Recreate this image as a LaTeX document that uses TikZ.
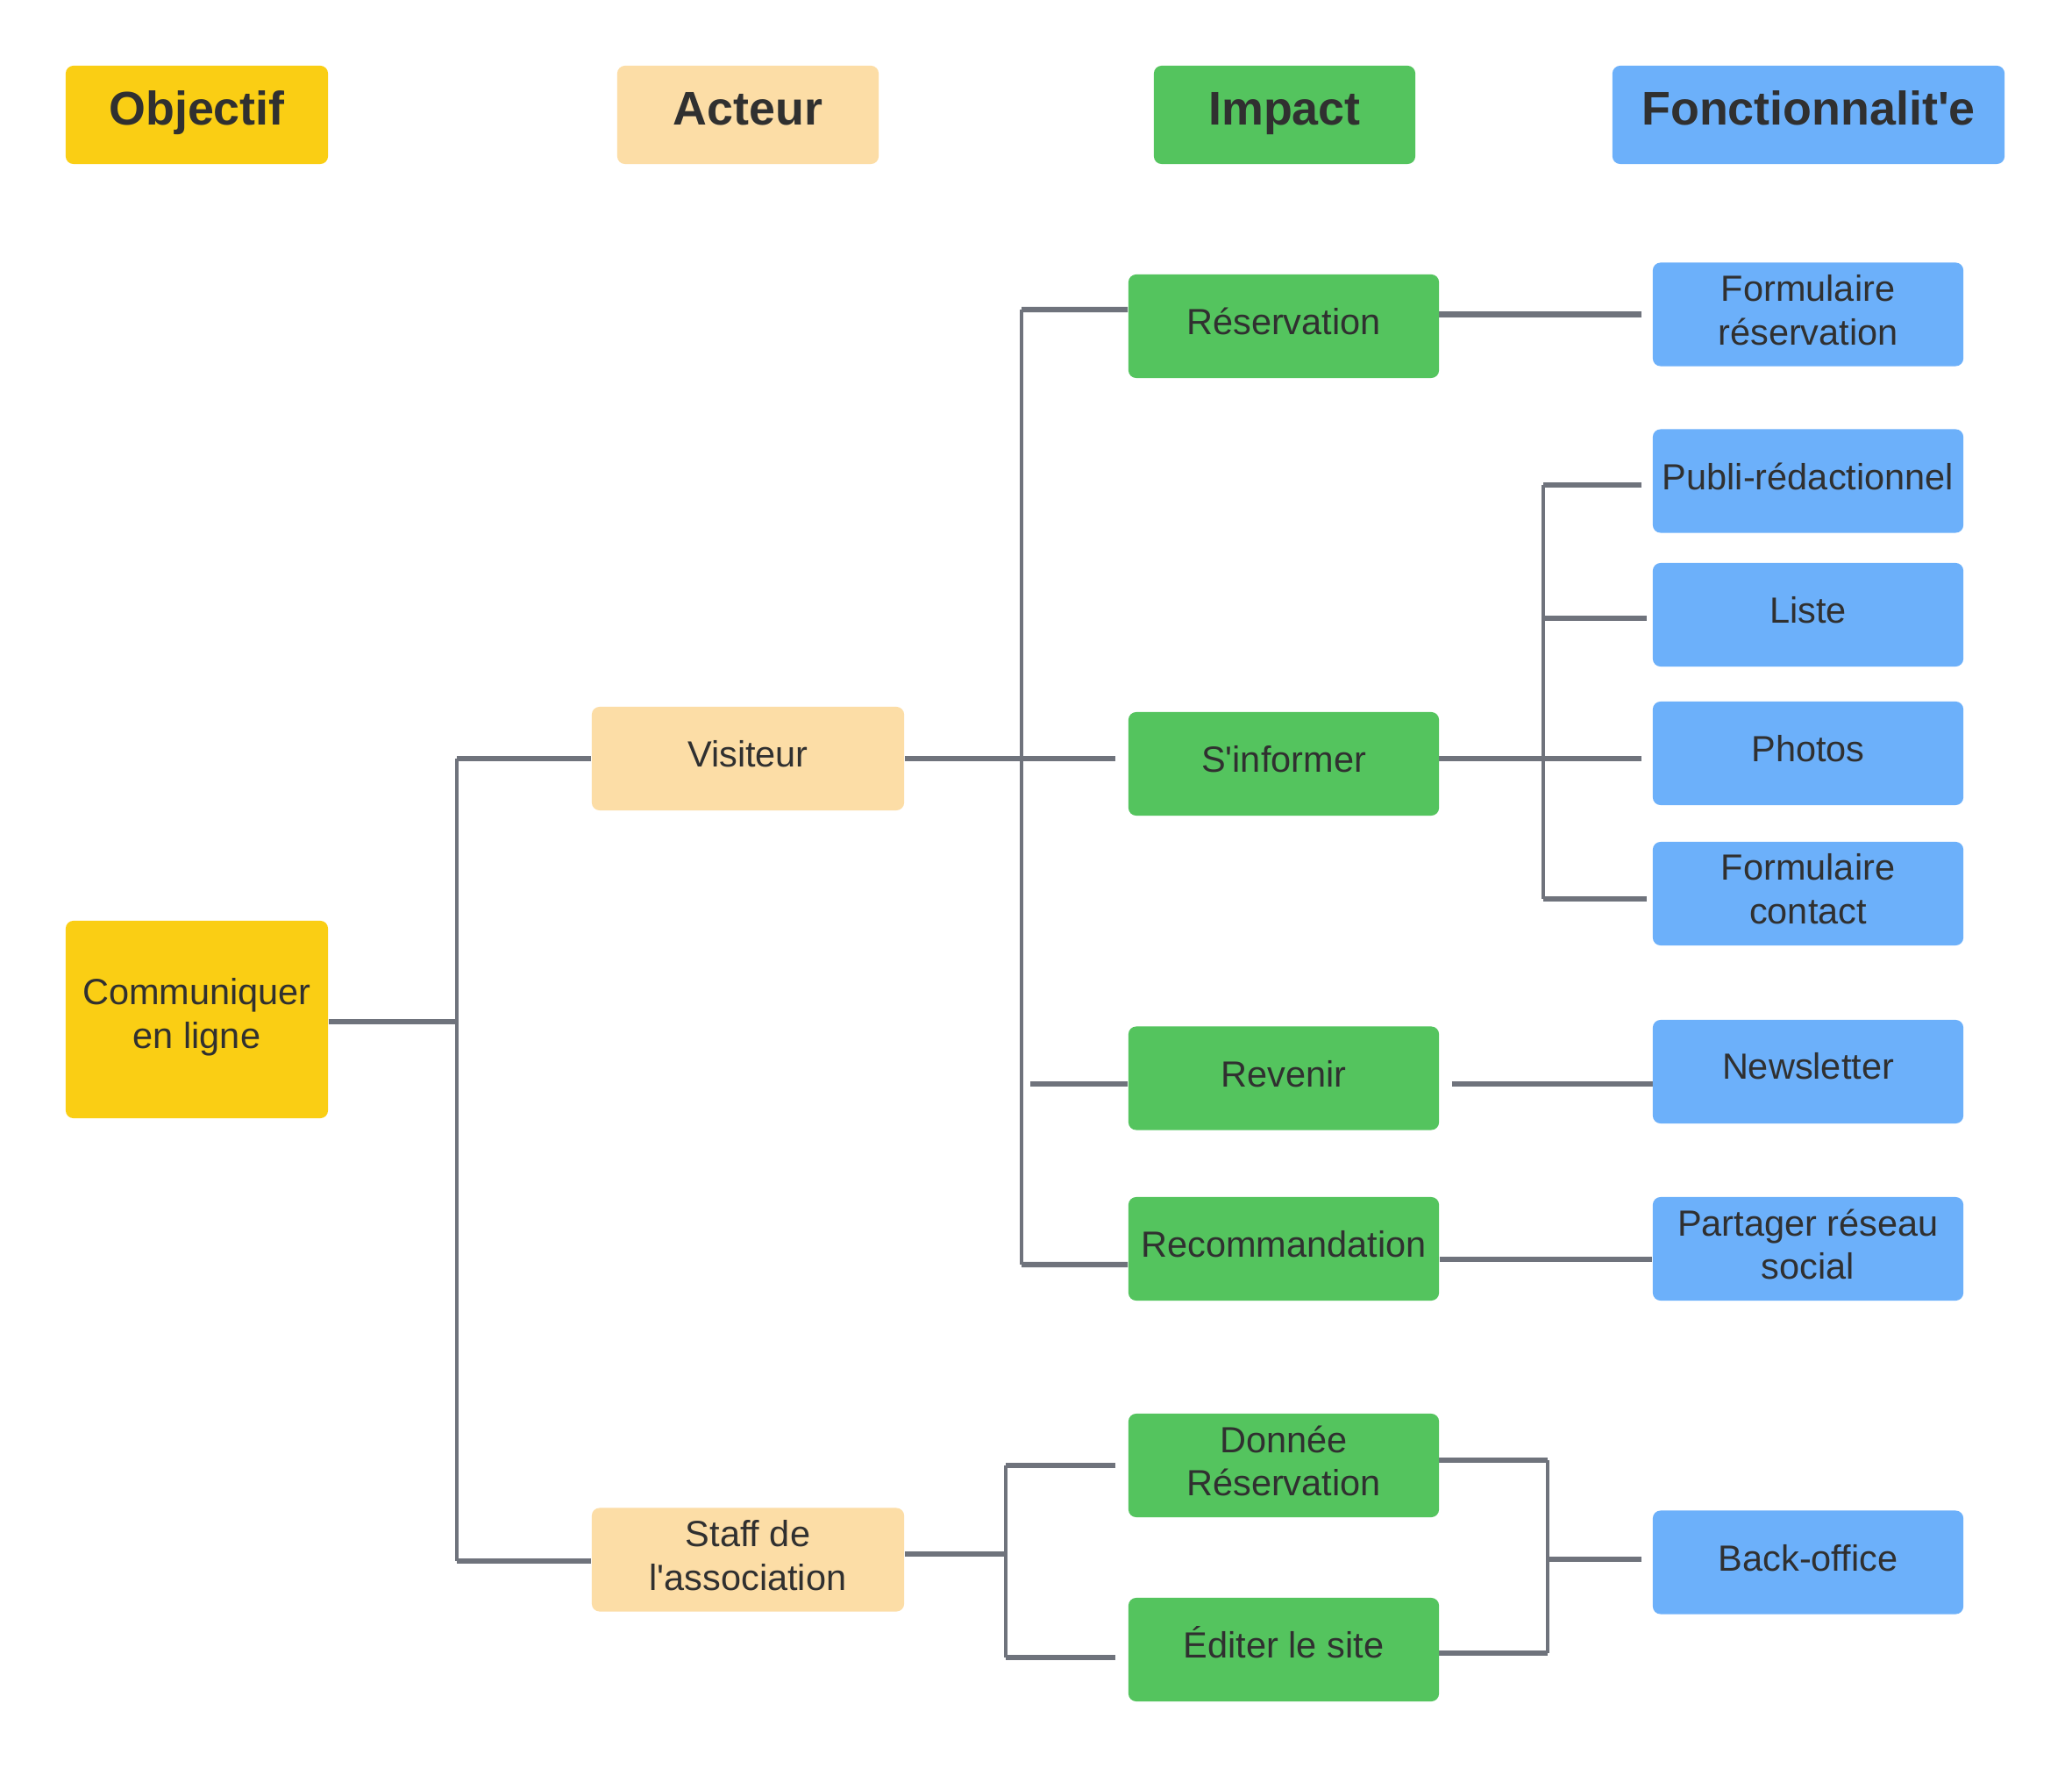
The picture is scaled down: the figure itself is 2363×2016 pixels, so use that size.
\documentclass[tikz,border=0pt]{standalone}
\usepackage{fontspec}
\setmainfont{Liberation Sans}[Ligatures=TeXOff]
\usetikzlibrary{backgrounds}
\definecolor{cyel}{RGB}{250,206,20}
\definecolor{cpea}{RGB}{252,221,166}
\definecolor{cgre}{RGB}{84,196,94}
\definecolor{cblu}{RGB}{108,176,250}
\definecolor{cline}{RGB}{111,115,124}
\definecolor{ctxt}{RGB}{48,48,48}
\tikzset{
  bx/.style={rounded corners=2.5pt, inner sep=0pt, align=center, text=ctxt,
    font=\fontsize{11.8}{14.2}\selectfont},
  one/.style={text height=8.6pt, text depth=3.1pt},
  two/.style={text depth=3pt},
  hdr/.style={bx, minimum height=1.12cm, text height=11pt, text depth=4.6pt,
    font=\fontsize{15.3}{18}\selectfont\bfseries},
  obj/.style={fill=cyel},
  act/.style={fill=cpea},
  imp/.style={bx, fill=cgre, minimum width=3.54cm, minimum height=1.18cm},
  fon/.style={bx, fill=cblu, minimum width=3.54cm, minimum height=1.18cm},
  hl/.style={draw=cline, line width=1.8pt},
  vl/.style={draw=cline, line width=1.1pt},
}
\begin{document}
\begin{tikzpicture}[x=0.01cm, y=-0.01cm]
\useasboundingbox (0,0) rectangle (2363,2016);
% headers
\node[obj, hdr, minimum width=2.99cm] (h1) at (224.5,131) {Objectif};
\node[act, hdr, minimum width=2.98cm] (h2) at (853,131) {Acteur};
\node[hdr, fill=cgre, minimum width=2.98cm] (h3) at (1465,131) {Impact};
\node[hdr, fill=cblu, minimum width=4.47cm] (h4) at (2062.5,131) {Fonctionnalit'e};
% objective
\node[obj, bx, text depth=4pt, minimum width=2.99cm, minimum height=2.25cm] (comm) at (224.5,1162.5) {Communiquer\\en ligne};
% actors
\node[act, bx, one, minimum width=3.56cm, minimum height=1.18cm] (vis) at (853,865) {Visiteur};
\node[act, bx, two, minimum width=3.56cm, minimum height=1.18cm] (staff) at (853,1778.5) {Staff de\\l'association};
% impacts
\node[imp, one] (res) at (1464,372) {Réservation};
\node[imp, one] (sinf) at (1464,871) {S'informer};
\node[imp, one] (rev) at (1464,1229.5) {Revenir};
\node[imp, one] (rec) at (1464,1424) {Recommandation};
\node[imp, two] (don) at (1464,1671) {Donnée\\Réservation};
\node[imp, one] (edit) at (1464,1881) {Éditer le site};
% features
\node[fon, two] (fres) at (2062,358.5) {Formulaire\\réservation};
\node[fon, one] (publi) at (2062,548.5) {Publi-rédactionnel};
\node[fon, one] (liste) at (2062,701) {Liste};
\node[fon, one] (photos) at (2062,859) {Photos};
\node[fon, two] (fcont) at (2062,1019) {Formulaire\\contact};
\node[fon, one, text depth=3.9pt] (news) at (2062,1222) {Newsletter};
\node[fon, two] (part) at (2062,1424) {Partager réseau\\social};
\node[fon, one] (back) at (2062,1781.5) {Back-office};
% junction coordinates
\coordinate (b1t) at (521,865);
\coordinate (b1b) at (521,1780);
\coordinate (b1m) at (521,1165);
\coordinate (b2t) at (1165,353);
\coordinate (b2b) at (1165,1442);
\coordinate (b2r) at (1175,1236);
\coordinate (j1) at (1760,553);
\coordinate (j2) at (1760,705);
\coordinate (j3) at (1760,865);
\coordinate (j4) at (1760,1025);
\coordinate (s1) at (1147,1772);
\coordinate (s2) at (1147,1671);
\coordinate (s3) at (1147,1890);
\coordinate (k1) at (1765,1665);
\coordinate (k2) at (1765,1885);
\coordinate (k3) at (1765,1778);
\begin{scope}[on background layer]
\fill[white] (0,0) rectangle (2363,2016);
% objective -> actors
\draw[vl] (b1t) -- (b1b);
\draw[hl] (b1m -| comm.east) -- (b1m);
\draw[hl] (b1t) -- (vis.west);
\draw[hl] (b1b) -- (b1b -| staff.west);
% visitor -> impacts
\draw[vl] (b2t) -- (b2b);
\draw[hl] (b2t) -- ([yshift=0.19cm]res.west);
\draw[hl, shorten >=0.14cm] (vis.east) -- (vis.east -| sinf.west);
\draw[hl] (b2r) -- (b2r -| rev.west);
\draw[hl] (b2b) -- ([yshift=-0.18cm]rec.west);
% impacts -> features
\draw[hl, shorten <=-0.09cm, shorten >=0.12cm] (fres.west -| res.east) -- (fres.west);
\draw[hl, shorten <=-0.06cm, shorten >=0.12cm] (j3 -| sinf.east) -- (j3 -| photos.west);
\draw[vl] (j1) -- (j4);
\draw[hl, shorten >=0.12cm] (j1) -- (j1 -| publi.west);
\draw[hl, shorten >=0.06cm] (j2) -- (j2 -| liste.west);
\draw[hl, shorten >=0.06cm] (j4) -- (j4 -| fcont.west);
\draw[hl, shorten <=0.14cm, shorten >=-0.12cm] (b2r -| rev.east) -- (b2r -| news.west);
\draw[hl] ([yshift=-0.12cm]rec.east) -- ([yshift=-0.12cm]part.west);
% staff -> impacts -> back-office
\draw[vl] (s2) -- (s3);
\draw[hl] (staff.east |- s1) -- (s1);
\draw[hl, shorten >=0.14cm] (s2) -- (s2 -| don.west);
\draw[hl, shorten >=0.14cm] (s3) -- (s3 -| edit.west);
\draw[vl] (k1) -- (k2);
\draw[hl, shorten <=-0.06cm] (k1 -| don.east) -- (k1);
\draw[hl, shorten <=-0.06cm] (k2 -| edit.east) -- (k2);
\draw[hl, shorten >=0.12cm] (k3) -- (k3 -| back.west);
\end{scope}
\end{tikzpicture}
\end{document}
